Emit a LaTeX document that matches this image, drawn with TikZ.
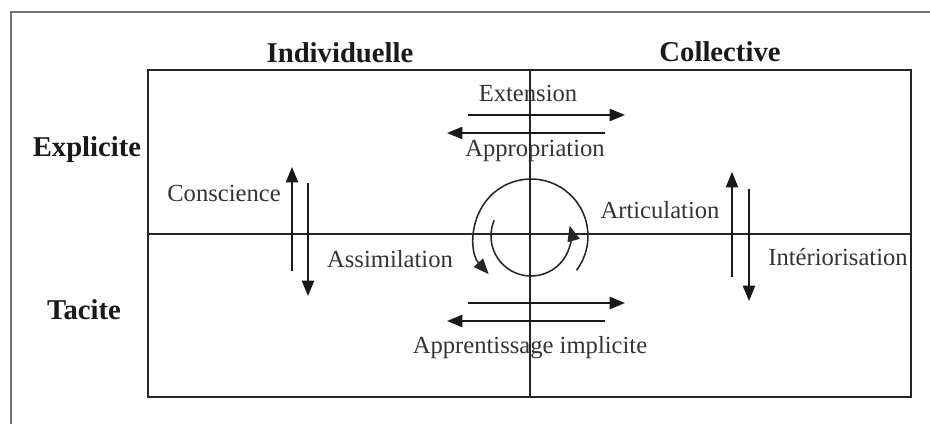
\documentclass[tikz,border=0pt]{standalone}
\usepackage{fontspec}
\setmainfont{Liberation Serif}
\usepackage{tikz}
\usetikzlibrary{arrows.meta,positioning,calc}
\tikzset{
  km/frame/.style={draw=black!55, line width=1pt},
  km/grid/.style={draw=black!85, line width=1pt},
  km/head/.style={font=\fontsize{14}{16}\selectfont\bfseries, text=black!90, inner sep=0pt, anchor=base},
  km/label/.style={font=\fontsize{12}{14}\selectfont, text=black!80, inner sep=0pt, anchor=base},
  km/flow/.style={line width=0.75pt, draw=black!90, -{Triangle[length=7.5pt,width=6pt]}},
  km/cycle/.style={line width=0.75pt, draw=black!85, -{Triangle[length=7.5pt,width=6pt]}}
}

\begin{document}
\begin{tikzpicture}[x=0.4878pt, y=-0.4878pt]
  \useasboundingbox (0,0) rectangle (930,424);

  % outer frame and grid
  \draw[km/frame] (11,424) |- (931,12);
  \draw[km/grid] (148,70) rectangle (911,397);
  \coordinate (gtop) at (530,70);
  \coordinate (gbot) at (530,397);
  \coordinate (gleft) at (148,234);
  \coordinate (gright) at (911,234);
  \draw[km/grid] (gtop) -- (gbot);
  \draw[km/grid] (gleft) -- (gright);

  % axis headings
  \node[km/head] (indiv) at (340,63) {Individuelle};
  \node[km/head] (coll) at (720,62) {Collective};
  \node[km/head] (expl) at (87,157) {Explicite};
  \node[km/head] (tac) at (84,319) {Tacite};

  % transfer labels
  \node[km/label] (ext) at (528,102) {Extension};
  \node[km/label] (appr) at (535,157) {Appropriation};
  \node[km/label] (cons) at (224,202) {Conscience};
  \node[km/label] (assim) at (390,267) {Assimilation};
  \node[km/label] (artic) at (660,218) {Articulation};
  \node[km/label] (inter) at (838,265) {Intériorisation};
  \node[km/label] (impl) at (530,353) {Apprentissage implicite};

  % arrow ends
  \coordinate (ext-a) at (468,115);  \coordinate (ext-b) at (625,115);
  \coordinate (appr-a) at (605,133); \coordinate (appr-b) at (447,133);
  \coordinate (impl-a) at (468,303); \coordinate (impl-b) at (625,303);
  \coordinate (impl-c) at (605,321); \coordinate (impl-d) at (447,321);
  \coordinate (cons-a) at (292,271); \coordinate (cons-b) at (292,167);
  \coordinate (assim-a) at (308,183); \coordinate (assim-b) at (308,296);
  \coordinate (artic-a) at (732,277); \coordinate (artic-b) at (732,172);
  \coordinate (inter-a) at (749,189); \coordinate (inter-b) at (749,301);
  \coordinate (spiral) at (531,236);

  \draw[km/flow] (ext-a) -- (ext-b);
  \draw[km/flow] (appr-a) -- (appr-b);
  \draw[km/flow] (impl-a) -- (impl-b);
  \draw[km/flow] (impl-c) -- (impl-d);
  \draw[km/flow] (cons-a) -- (cons-b);
  \draw[km/flow] (assim-a) -- (assim-b);
  \draw[km/flow] (artic-a) -- (artic-b);
  \draw[km/flow] (inter-a) -- (inter-b);

  % knowledge spiral
  \draw[km/cycle] ($(spiral)+(37:57)$) arc[start angle=37, end angle=-222, radius=57];
  \draw[km/cycle] ($(spiral)+(-157:40)$) arc[start angle=-157, end angle=-375, radius=40];
\end{tikzpicture}
\end{document}
